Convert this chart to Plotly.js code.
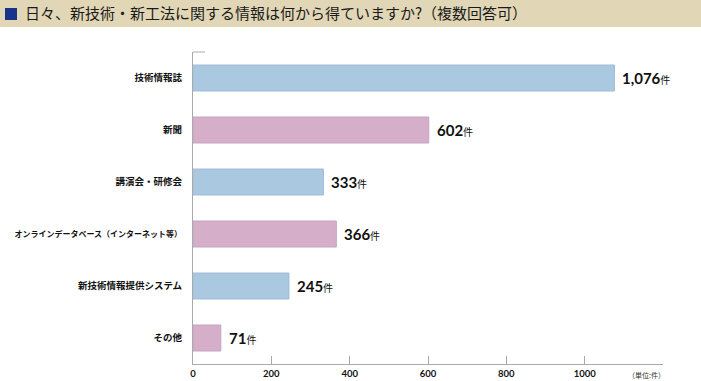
<!DOCTYPE html>
<html>
<head>
<meta charset="utf-8">
<script src="https://cdn.plot.ly/plotly-3.0.1.min.js"></script>
<style>html,body{margin:0;padding:0;background:#fff;}#chart{width:701px;height:381px;}</style>
</head>
<body>
<div id="chart"></div>
<script>
const titleText = '日々、新技術・新工法に関する情報は何から得ていますか?（複数回答可）';
const categories = ['技術情報誌', '新聞', '講演会・研修会', 'オンラインデータベース（インターネット等）', '新技術情報提供システム', 'その他'];
const counts = [1076, 602, 333, 366, 245, 71];
const unitSuffix = '件';
const xTickVals = [0, 200, 400, 600, 800, 1000];
const unitLabel = '（単位:件）';

const W = 701, H = 381;
const M = {l: 193, r: 38, t: 52, b: 17};
const PW = W - M.l - M.r, PH = H - M.t - M.b;
const px = v => (v - M.l) / PW;            // container x -> paper x
const py = v => 1 - (v - M.t) / PH;        // container y -> paper y

const blue = '#abc8e1', pink = '#d5aec9';
const barColors = categories.map((_, i) => i % 2 === 0 ? blue : pink);
const lineColors = categories.map((_, i) => i % 2 === 0 ? '#9fbbd9' : '#c6a3c4');

const jp = '"Noto Sans CJK JP", "Noto Sans", sans-serif';

const fmt = n => n.toLocaleString('en-US');

// long labels are drawn slightly smaller so they fit left of the axis
const tickText = categories.map(c => c.length > 15 ? '<span style="font-size:8px">' + c + '</span>' : c);

const annotations = categories.map((c, i) => ({
  x: counts[i], y: c, xref: 'x', yref: 'y',
  xanchor: 'left', yanchor: 'middle', xshift: 6, yshift: 0,
  showarrow: false,
  text: '<b>' + fmt(counts[i]) + '</b><span style="font-size:10px">' + unitSuffix + '</span>',
  font: {family: '"Lato", ' + jp, size: 15, color: '#111'}
}));
annotations.push({
  x: px(646), y: py(375), xref: 'paper', yref: 'paper',
  xanchor: 'center', yanchor: 'middle', showarrow: false,
  text: unitLabel, font: {family: jp, size: 7, color: '#333'}
});

const data = [{
  type: 'bar', orientation: 'h',
  x: counts, y: categories,
  marker: {color: barColors, line: {color: lineColors, width: 1}},
  hoverinfo: 'none'
}];

const layout = {
  width: W, height: H,
  margin: M,
  paper_bgcolor: '#fff', plot_bgcolor: '#fff',
  showlegend: false,
  bargap: 0.5,
  title: {
    text: titleText, x: 25 / W, xanchor: 'left', xref: 'container',
    y: 1 - 14 / H, yanchor: 'middle', yref: 'container',
    font: {family: jp, size: 15, color: '#1a1a1a'}
  },
  xaxis: {
    range: [0, 1200], tickvals: xTickVals, ticktext: xTickVals.map(String),
    showgrid: false, zeroline: false,
    showline: true, linecolor: '#aaaaaa', linewidth: 1,
    ticks: 'inside', ticklen: 8, tickcolor: '#aaaaaa', tickwidth: 1,
    tickfont: {family: '"Lato", ' + jp, size: 9.5, color: '#111', weight: 'bold'},
    ticklabelstandoff: 1,
    fixedrange: true
  },
  yaxis: {
    type: 'category', autorange: 'reversed',
    tickvals: categories, ticktext: tickText,
    showgrid: false, zeroline: false,
    showline: true, linecolor: '#aaaaaa', linewidth: 1,
    ticks: '', ticklabelstandoff: 8,
    tickfont: {family: jp, size: 9.5, color: '#111', weight: 'bold'},
    fixedrange: true
  },
  shapes: [
    {type: 'rect', xref: 'paper', yref: 'paper', x0: px(0), x1: px(W), y0: py(27), y1: py(0),
     fillcolor: '#e1d7b6', line: {width: 0}, layer: 'below'},
    {type: 'rect', xref: 'paper', yref: 'paper', x0: px(5), x1: px(17), y0: py(20), y1: py(8),
     fillcolor: '#17348a', line: {width: 0}},
    {type: 'line', xref: 'paper', yref: 'paper', x0: 0, x1: px(205), y0: 1, y1: 1,
     line: {color: '#aaaaaa', width: 1}}
  ],
  annotations: annotations
};

Plotly.newPlot('chart', data, layout, {displayModeBar: false, staticPlot: true});
</script>
</body>
</html>
